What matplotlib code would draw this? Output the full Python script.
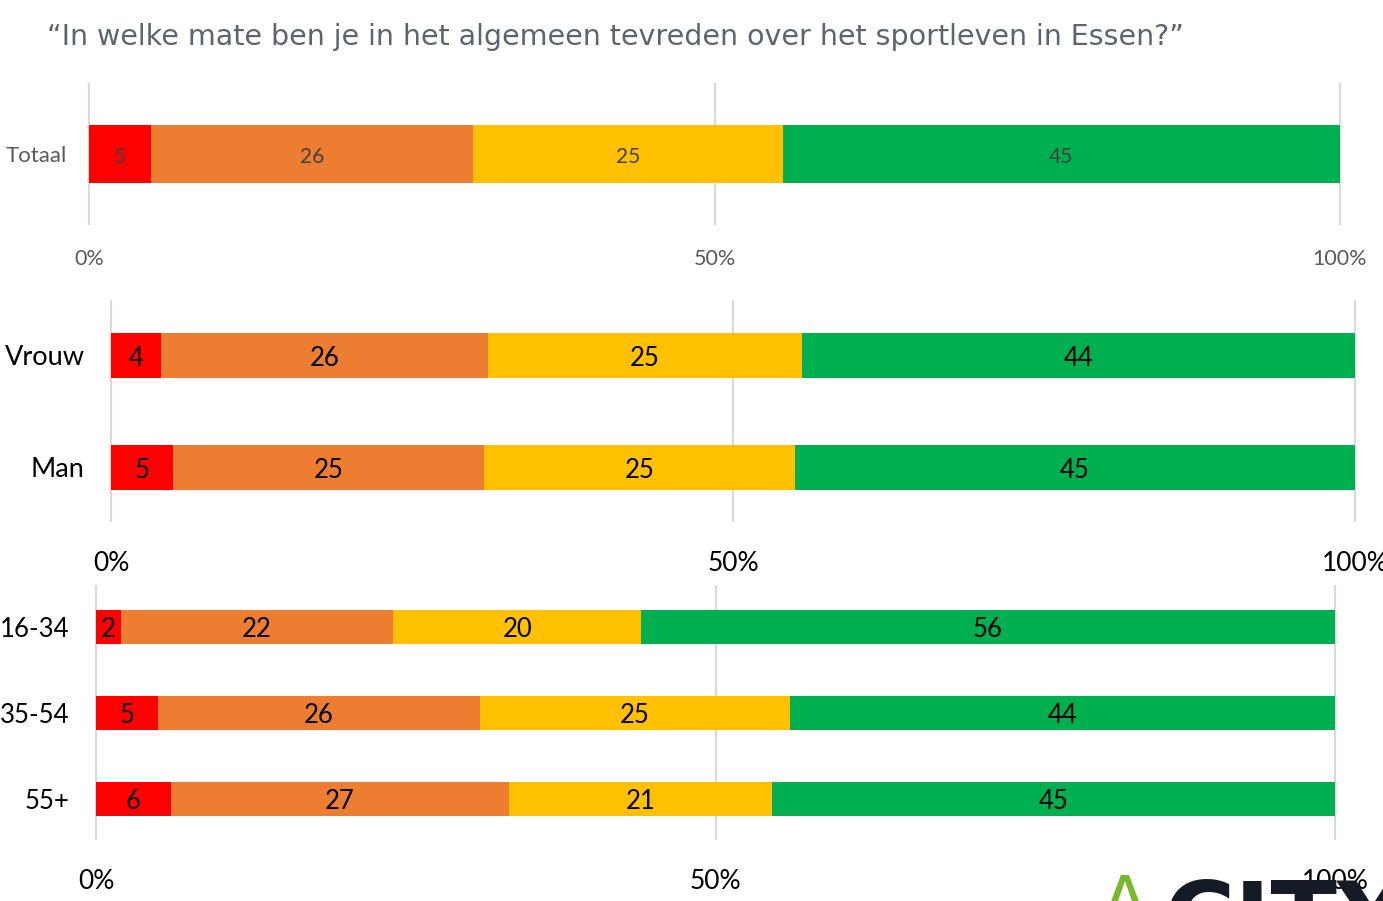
import matplotlib.pyplot as plt
import numpy as np

# ---- data ----
title = "\u201cIn welke mate ben je in het algemeen tevreden over het sportleven in Essen?\u201d"
series_colors = ['#FF0000', '#ED7D31', '#FFC000', '#00B050']

cats1 = ['Totaal']
vals1 = [[5, 26, 25, 45]]

cats2 = ['Vrouw', 'Man']
vals2 = [[4, 26, 25, 44], [5, 25, 25, 45]]

cats3 = ['16-34', '35-54', '55+']
vals3 = [[2, 22, 20, 56], [5, 26, 25, 44], [6, 27, 21, 45]]

ticks = [0, 50, 100]
tick_labels = ['0%', '50%', '100%']

W, H = 1383, 901
fig = plt.figure(figsize=(W / 100, H / 100), dpi=100)
FONT = ['Lato', 'DejaVu Sans']


def px_axes(x0, x1, y0, y1):
    return fig.add_axes([x0 / W, 1 - y1 / H, (x1 - x0) / W, (y1 - y0) / H])


def draw(ax, cats, vals, bar_h, ylim, lab_size, lab_color, tick_size, tick_color,
         cat_size, cat_color, cat_pad, tick_pad, lab_dy):
    n = len(cats)
    y = np.arange(n)
    data = np.array(vals, dtype=float)
    norm = data / data.sum(axis=1, keepdims=True) * 100
    left = np.zeros(n)
    for j in range(data.shape[1]):
        ax.barh(y, norm[:, j], left=left, height=bar_h, color=series_colors[j],
                zorder=3, linewidth=0)
        for i in range(n):
            ax.annotate(f"{int(data[i, j])}", (left[i] + norm[i, j] / 2, y[i]),
                        xytext=(0, lab_dy), textcoords='offset points',
                        ha='center', va='center', fontsize=lab_size, color=lab_color,
                        family=FONT, zorder=4)
        left += norm[:, j]
    ax.set_xlim(0, 100)
    ax.set_ylim(*ylim)
    ax.vlines(ticks, ylim[0], ylim[1], color='#D9D9D9', linewidth=1.6,
              zorder=1, clip_on=False)
    ax.set_xticks(ticks)
    ax.set_xticklabels(tick_labels, fontsize=tick_size, color=tick_color, family=FONT)
    ax.set_yticks(y)
    ax.set_yticklabels(cats, fontsize=cat_size, color=cat_color, family=FONT)
    ax.tick_params(axis='x', length=0, pad=tick_pad)
    ax.tick_params(axis='y', length=0, pad=cat_pad)
    for s in ax.spines.values():
        s.set_visible(False)
    ax.set_facecolor('none')


ax1 = px_axes(89, 1340, 83, 225)
draw(ax1, cats1, vals1, 0.41, (0.5, -0.5), 15, '#404040', 15.5, '#595959',
     16, '#595959', 16, 17, -2)

ax2 = px_axes(111, 1355, 300, 522)
draw(ax2, cats2, vals2, 0.40, (1.487, -0.4955), 18.5, 'black', 19, 'black',
     19.5, 'black', 19, 21, -2)

ax3 = px_axes(96, 1335, 585, 840)
draw(ax3, cats3, vals3, 0.395, (2.477, -0.488), 18.5, 'black', 19, 'black',
     18.5, 'black', 19, 21, -2)

fig.text(47 / W, 1 - 37 / H, title, ha='left', va='center', fontsize=20.5,
         color='#5A6570', family=['DejaVu Sans'])

# partial logo in the bottom-right corner
fig.text(1111 / W, 1 - 874 / H, '\u039b', fontsize=26, color='#7AB929',
         ha='left', va='top', family=['DejaVu Sans'], fontweight='bold')
fig.text(1163 / W, 1 - 878 / H, 'CITY', fontsize=70, color='#141A26',
         ha='left', va='top', family=['DejaVu Sans'], fontweight='bold')

fig.savefig('out.png', dpi=100)
